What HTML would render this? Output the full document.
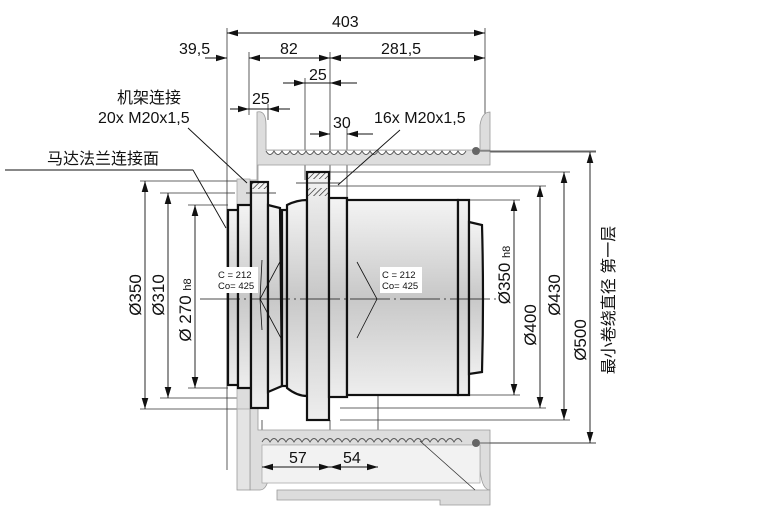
<!DOCTYPE html>
<html><head><meta charset="utf-8"><style>
body{margin:0;background:#fff}
svg{display:block}
text{font-family:"Liberation Sans","Noto Sans CJK SC",sans-serif;fill:#111}
</style></head><body>
<svg width="763" height="518" viewBox="0 0 763 518" xmlns="http://www.w3.org/2000/svg">
<defs>
<marker id="a" viewBox="0 0 10 6" refX="10" refY="3" markerWidth="11" markerHeight="7" orient="auto-start-reverse" markerUnits="userSpaceOnUse"><path d="M0,0L10,3L0,6z" fill="#111"/></marker>
<linearGradient id="g" x1="0" y1="0" x2="0" y2="1"><stop offset="0" stop-color="#f4f4f4"/><stop offset=".5" stop-color="#c8c8c8"/><stop offset="1" stop-color="#eee"/></linearGradient>
<pattern id="h" width="4" height="4" patternUnits="userSpaceOnUse" patternTransform="rotate(45)"><line x1="0" y1="0" x2="0" y2="4" stroke="#111" stroke-width="1.2"/></pattern>
</defs>
<g stroke="#333" stroke-width="0.8" fill="none">
<line x1="227" y1="28" x2="227" y2="470"/><line x1="485" y1="28" x2="485" y2="150"/>
<line x1="249" y1="52" x2="249" y2="115"/><line x1="330" y1="52" x2="330" y2="180"/>
<line x1="305" y1="78" x2="305" y2="180"/><line x1="268" y1="104" x2="268" y2="120"/>
<line x1="347" y1="128" x2="347" y2="200"/>
<line x1="140" y1="181" x2="250" y2="181"/><line x1="140" y1="409" x2="250" y2="409"/>
<line x1="160" y1="193" x2="235" y2="193"/><line x1="160" y1="398" x2="240" y2="398"/>
<line x1="188" y1="205" x2="228" y2="205"/><line x1="188" y1="388" x2="228" y2="388"/>
<line x1="465" y1="200" x2="520" y2="200"/><line x1="465" y1="395" x2="520" y2="395"/>
<line x1="330" y1="186" x2="546" y2="186"/><line x1="340" y1="408" x2="546" y2="408"/>
<line x1="330" y1="172" x2="570" y2="172"/><line x1="340" y1="420" x2="570" y2="420"/>
<line x1="490" y1="152" x2="596" y2="152"/><line x1="490" y1="443" x2="596" y2="443"/>
<line x1="262" y1="420" x2="262" y2="472"/><line x1="330" y1="420" x2="330" y2="472"/><line x1="378" y1="300" x2="378" y2="472"/>
</g>
<g fill="#dcdcdc" stroke="#999" stroke-width="0.8">
<path d="M257,112 Q266,110 266,125 L266,150 L490,150 L490,112 Q482,112 480,125 L480,150 L490,150 L490,165 L266,165 L258,165 L258,430 L490,430 L490,445 L490,490 Q482,490 480,470 L480,445 L270,445 L270,470 Q268,490 260,490 L250,490 L250,180 L257,180 Z" fill="#ddd"/>
<rect x="262" y="445" width="218" height="38" fill="#f2f2f2" stroke="#aaa"/>
<path d="M277,490 L490,490 L490,505 L440,505 L440,500 L277,500 Z"/>
<rect x="237" y="408" width="13" height="82" fill="#e4e4e4"/>
</g>
<path d="M266,151 q4,7 8,0 q4,7 8,0 q4,7 8,0 q4,7 8,0 q4,7 8,0 q4,7 8,0 q4,7 8,0 q4,7 8,0 q4,7 8,0 q4,7 8,0 q4,7 8,0 q4,7 8,0 q4,7 8,0 q4,7 8,0 q4,7 8,0 q4,7 8,0 q4,7 8,0 q4,7 8,0 q4,7 8,0 q4,7 8,0 q4,7 8,0 q4,7 8,0 q4,7 8,0 q4,7 8,0 q4,7 8,0" fill="#fff" stroke="#555" stroke-width="0.9"/>
<path d="M262,442 q4,-7 8,0 q4,-7 8,0 q4,-7 8,0 q4,-7 8,0 q4,-7 8,0 q4,-7 8,0 q4,-7 8,0 q4,-7 8,0 q4,-7 8,0 q4,-7 8,0 q4,-7 8,0 q4,-7 8,0 q4,-7 8,0 q4,-7 8,0 q4,-7 8,0 q4,-7 8,0 q4,-7 8,0 q4,-7 8,0 q4,-7 8,0 q4,-7 8,0 q4,-7 8,0 q4,-7 8,0 q4,-7 8,0 q4,-7 8,0 q4,-7 8,0" fill="none" stroke="#555" stroke-width="0.9"/>
<circle cx="476" cy="151" r="4" fill="#666"/><circle cx="476" cy="443" r="4" fill="#666"/>
<line x1="480" y1="151" x2="596" y2="151" stroke="#333" stroke-width=".8"/>
<line x1="480" y1="443" x2="596" y2="443" stroke="#333" stroke-width=".8"/>
<line x1="420" y1="441" x2="475" y2="490" stroke="#333" stroke-width=".8"/>
<g stroke="#111" stroke-width="2.2" fill="url(#g)">
<rect x="237" y="179" width="13" height="230" fill="#ddd" stroke="#aaa" stroke-width=".8"/>
<rect x="228" y="210" width="10" height="175"/>
<rect x="238" y="205" width="13" height="183"/>
<rect x="251" y="182" width="17" height="226"/>
<path d="M268,205 L280,208 L282,386 L268,392 Z"/>
<rect x="282" y="210" width="5" height="176"/>
<path d="M287,205 Q297,200 307,200 L307,396 Q297,396 287,388 Z"/>
<rect x="307" y="172" width="22" height="248"/>
<rect x="329" y="198" width="18" height="199"/>
<rect x="347" y="200" width="111" height="195"/>
<rect x="458" y="200" width="11" height="195"/>
<path d="M469,222 L482,225 Q484,298 482,372 L469,374 Z"/>
</g>
<rect x="252" y="183" width="15" height="6" fill="url(#h)"/>
<rect x="308" y="173" width="20" height="6" fill="url(#h)"/>
<rect x="308" y="188" width="20" height="8" fill="url(#h)"/>
<g stroke="#111" stroke-width=".8">
<line x1="246" y1="193" x2="276" y2="193"/><line x1="296" y1="183" x2="340" y2="183"/>
<line x1="200" y1="299" x2="500" y2="299" stroke-dasharray="40,4,2,4"/>
<path d="M262,260 L260,299 L282,340" fill="none"/><path d="M262,330 L260,299 L282,258" fill="none"/>
<path d="M357,262 L377,299 L357,338" fill="none"/>
</g>
<rect x="216" y="267" width="42" height="26" fill="#fff"/>
<rect x="380" y="267" width="42" height="26" fill="#fff"/>
<text x="218" y="278" font-size="9.5">C  = 212</text><text x="218" y="289" font-size="9.5">Co= 425</text>
<text x="382" y="278" font-size="9.5">C  = 212</text><text x="382" y="289" font-size="9.5">Co= 425</text>
<g stroke="#111" stroke-width=".9">
<line x1="227" y1="33" x2="485" y2="33" marker-start="url(#a)" marker-end="url(#a)"/>
<line x1="205" y1="58" x2="227" y2="58" marker-end="url(#a)"/>
<line x1="249" y1="58" x2="330" y2="58" marker-start="url(#a)" marker-end="url(#a)"/>
<line x1="330" y1="58" x2="485" y2="58" marker-start="url(#a)" marker-end="url(#a)"/>
<line x1="283" y1="83" x2="305" y2="83" marker-end="url(#a)"/><line x1="357" y1="83" x2="330" y2="83" marker-end="url(#a)"/><line x1="305" y1="83" x2="330" y2="83"/>
<line x1="230" y1="109" x2="249" y2="109" marker-end="url(#a)"/><line x1="290" y1="109" x2="268" y2="109" marker-end="url(#a)"/><line x1="249" y1="109" x2="268" y2="109"/>
<line x1="310" y1="134" x2="330" y2="134" marker-end="url(#a)"/><line x1="373" y1="134" x2="347" y2="134" marker-end="url(#a)"/>
<line x1="145" y1="181" x2="145" y2="409" marker-start="url(#a)" marker-end="url(#a)"/>
<line x1="168" y1="193" x2="168" y2="398" marker-start="url(#a)" marker-end="url(#a)"/>
<line x1="195" y1="205" x2="195" y2="388" marker-start="url(#a)" marker-end="url(#a)"/>
<line x1="514" y1="200" x2="514" y2="395" marker-start="url(#a)" marker-end="url(#a)"/>
<line x1="540" y1="186" x2="540" y2="408" marker-start="url(#a)" marker-end="url(#a)"/>
<line x1="564" y1="172" x2="564" y2="420" marker-start="url(#a)" marker-end="url(#a)"/>
<line x1="590" y1="152" x2="590" y2="443" marker-start="url(#a)" marker-end="url(#a)"/>
<line x1="262" y1="467" x2="330" y2="467" marker-start="url(#a)" marker-end="url(#a)"/>
<line x1="330" y1="467" x2="378" y2="467" marker-start="url(#a)" marker-end="url(#a)"/>
<line x1="188" y1="128" x2="247" y2="183"/>
<line x1="5" y1="170" x2="193" y2="170"/><line x1="193" y1="170" x2="226" y2="228"/>
<line x1="400" y1="130" x2="338" y2="185"/>
</g>
<g font-size="16">
<text x="332" y="27">403</text>
<text x="179" y="54">39,5</text>
<text x="280" y="54">82</text>
<text x="381" y="54">281,5</text>
<text x="309" y="80">25</text>
<text x="252" y="104">25</text>
<text x="333" y="128">30</text>
<text x="374" y="123">16x M20x1,5</text>
<text x="117" y="103">机架连接</text>
<text x="98" y="123">20x M20x1,5</text>
<text x="47" y="164">马达法兰连接面</text>
<text x="289" y="463">57</text>
<text x="343" y="463">54</text>
</g>
<g font-size="17">
<text transform="translate(141,295) rotate(-90)" text-anchor="middle">Ø350</text>
<text transform="translate(164,295) rotate(-90)" text-anchor="middle">Ø310</text>
<text transform="translate(191,310) rotate(-90)" text-anchor="middle">Ø 270 <tspan font-size="11">h8</tspan></text>
<text transform="translate(510,275) rotate(-90)" text-anchor="middle">Ø350 <tspan font-size="11">h8</tspan></text>
<text transform="translate(536,325) rotate(-90)" text-anchor="middle">Ø400</text>
<text transform="translate(560,295) rotate(-90)" text-anchor="middle">Ø430</text>
<text transform="translate(586,340) rotate(-90)" text-anchor="middle">Ø500</text>
<text transform="translate(614,300) rotate(-90)" text-anchor="middle" font-size="16">最小卷绕直径  第一层</text>
</g>
</svg>
</body></html>
